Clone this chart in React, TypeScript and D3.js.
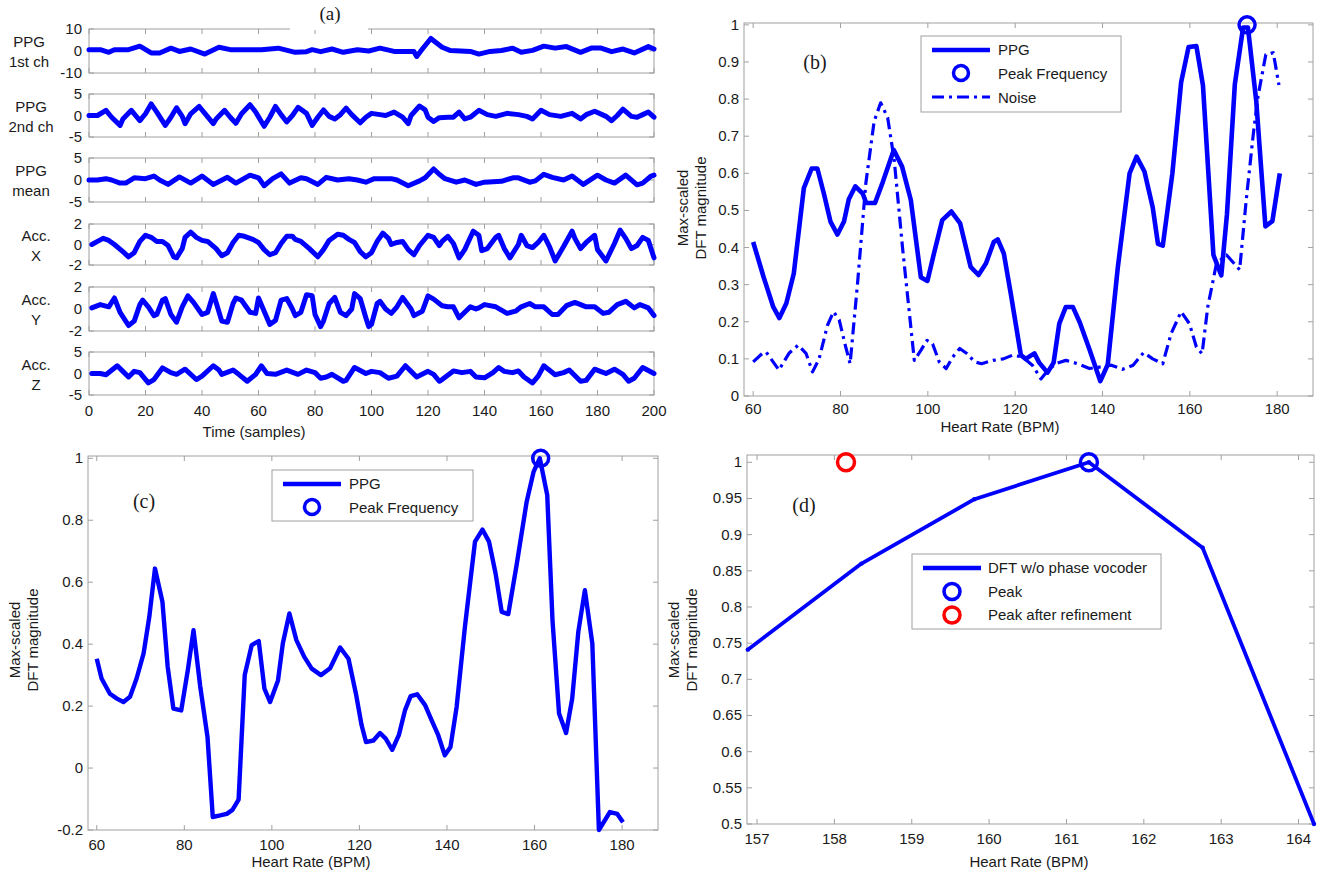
import React from "react";
import * as d3 from "d3";

const FONT = "'Liberation Sans', Arial, Helvetica, sans-serif";
const SERIF = "'Liberation Serif', 'Times New Roman', serif";
const BLUE = "#0000ff";
const RED = "#ff0000";
const AXIS = "#a0a0a0";
const TXT = "#1a1a1a";

type Pt = [number, number];

// ---------------- Panel (a): time series [sample, value] ----------------
const ppg1: Pt[] = [[0,0.6],[4,0.6],[7,-0.6],[9,0.6],[14,0.6],[18,2.2],[22,-0.9],[25,-0.9],[29,1.3],[32,-0.2],[36,0.9],[41,-1.4],[46,1.7],[50,0.6],[56,0.6],[61,0.6],[67,1.3],[73,-0.6],[77,-0.3],[79,0.6],[82,-0.3],[86,0.9],[90,-0.6],[95,0.6],[99,0],[103,1.3],[108,-0.2],[115,-0.2],[116,-2.5],[118,0.9],[121,5.7],[125,1.7],[128,0.2],[135,-0.2],[138,-1.4],[142,-0.2],[146,0.2],[150,1.3],[153,-0.6],[157,0.3],[161,2.2],[165,1.3],[169,2.0],[174,-0.6],[178,1.4],[181,1.4],[185,-0.3],[189,0.9],[193,-0.9],[198,2.0],[200,0.9]];
const ppg2: Pt[] = [[0,0],[3,0],[6,1.2],[8,-0.4],[11,-2.3],[12,-0.8],[15,1.2],[17,-0.4],[18,-1.2],[20,0.4],[22,2.7],[24,0.8],[27,-2.3],[29,-0.4],[31,1.8],[33,-0.2],[34,-1.9],[36,0.4],[39,2.1],[41,0.5],[44,-1.9],[45,-0.8],[48,1.2],[50,-0.4],[52,-1.8],[54,0.4],[57,2.5],[59,0.8],[62,-2.5],[64,-0.4],[66,2.1],[68,0.2],[70,-1.5],[72,0],[74,1.9],[77,0.5],[79,-2.3],[81,-0.4],[83,1.3],[85,-0.2],[87,-0.8],[89,0.2],[91,1.7],[93,0.2],[96,-1.7],[98,-0.4],[100,0.5],[103,0.2],[105,0],[108,0.8],[111,-0.4],[113,-1.9],[114,0],[117,2.2],[119,1.3],[120,-0.4],[122,-1.4],[124,-0.5],[127,-0.4],[129,-0.4],[131,0.8],[133,-0.8],[135,-0.4],[138,1.2],[141,0.2],[144,-0.2],[148,0.5],[152,0.2],[155,-0.2],[157,-0.8],[160,1.2],[163,0.2],[167,-0.2],[171,0.5],[174,-0.8],[176,0.2],[179,1.0],[183,-0.2],[185,-1.2],[187,0],[189,1.5],[192,-0.2],[194,-0.4],[196,0.2],[198,0.8],[200,-0.4]];
const ppgMean: Pt[] = [[0,0],[3,0],[6,0.3],[8,0],[11,-0.7],[13,-0.7],[16,0.5],[20,0.3],[23,0.9],[25,0],[28,-1.0],[32,0.7],[36,-0.7],[40,0.9],[44,-1.0],[49,0.6],[52,-0.7],[57,1.1],[60,0.5],[62,-1.3],[65,0.3],[68,1.4],[71,-0.7],[75,0.5],[77,0.3],[81,-1.0],[84,0.6],[88,0],[92,0.3],[95,0],[98,-0.5],[101,0.3],[107,0.3],[109,0],[113,-1.3],[117,-0.2],[119,0.5],[122,2.5],[124,1.3],[126,0.3],[130,-0.5],[133,0],[137,-1.0],[140,-0.5],[146,-0.3],[150,0.5],[152,0.5],[156,-0.5],[158,-0.2],[161,1.3],[164,0.6],[168,0],[171,0.9],[175,-1.0],[180,1.1],[183,0],[186,-0.7],[190,1.1],[194,-1.1],[196,-0.7],[199,0.9],[200,1.1]];
const accX: Pt[] = [[1,0],[3,0.3],[5,0.6],[7,0.4],[9,0],[12,-0.7],[14,-1.2],[16,-0.8],[18,0.3],[20,0.9],[22,0.7],[24,0.3],[26,0.3],[28,-0.1],[30,-1.2],[31,-1.3],[33,-0.4],[34,0.7],[36,1.2],[38,0.7],[40,0.4],[42,0.3],[45,-0.4],[47,-1.1],[49,-0.8],[51,0.2],[53,0.9],[55,0.8],[58,0.5],[60,0.2],[62,-0.5],[64,-1.0],[66,-0.8],[68,0.1],[70,0.8],[72,0.8],[73,0.5],[75,0.3],[78,-0.4],[81,-1.2],[83,-0.5],[85,0.4],[88,1.0],[90,0.9],[92,0.5],[94,0.2],[96,-0.7],[98,-1.2],[100,-0.8],[102,0.3],[104,1.1],[106,0.6],[107,0],[109,0.2],[111,0.3],[113,-0.5],[115,-1.0],[117,-0.1],[120,0.9],[122,0.7],[124,-0.1],[125,0.3],[127,0.8],[129,0.1],[131,-1.3],[133,-0.5],[136,1.3],[138,0.9],[139,-0.6],[141,-0.4],[144,0.7],[145,0.9],[147,-0.4],[149,-1.3],[152,0],[153,0.9],[155,-0.1],[157,-0.3],[159,0.2],[161,0.9],[163,-0.2],[165,-1.6],[168,-0.2],[171,1.3],[172,0.6],[174,-0.4],[176,0.2],[179,0.9],[180,-0.5],[183,-1.6],[186,0.1],[188,1.4],[190,0.6],[192,-0.4],[194,-0.1],[196,0.7],[198,0.4],[200,-1.3]];
const accY: Pt[] = [[1,0.1],[4,0.4],[7,0.2],[9,1.0],[11,-0.3],[14,-1.5],[16,-1.1],[18,0.4],[19,0.8],[21,0.2],[23,-0.6],[24,-0.5],[26,0.8],[27,0.95],[29,-0.5],[31,-1.2],[33,0.2],[35,1.2],[37,0.6],[40,-0.5],[42,-0.3],[44,1.4],[45,0.6],[47,-1.1],[49,-1.2],[51,0.5],[52,1.0],[54,0.8],[57,-0.3],[59,-0.4],[60,1.0],[62,-0.2],[64,-1.4],[66,-1.05],[68,0.8],[70,0.95],[72,0],[73,-0.6],[75,-0.3],[77,1.3],[79,1.2],[80,-0.5],[82,-1.6],[83,-1.1],[85,0.5],[87,1.05],[89,-0.3],[91,-0.6],[93,0],[94,1.4],[96,0.95],[98,-0.8],[99,-1.6],[100,-1.4],[102,0.5],[103,0.7],[105,0],[107,-0.4],[109,0.2],[111,1.05],[114,0],[115,-0.6],[118,-0.2],[120,1.2],[122,0.9],[125,0.3],[127,0.2],[129,0.2],[131,-0.8],[133,-0.3],[135,0.2],[137,0],[138,0.1],[140,0.4],[144,0.2],[148,-0.4],[151,-0.2],[153,0.2],[156,0.5],[158,0.2],[161,0.2],[164,-0.5],[166,-0.5],[169,0.3],[172,0.6],[174,0.4],[176,0.2],[179,0.2],[182,-0.4],[184,-0.3],[187,0.4],[190,0.7],[193,0.1],[195,0.4],[198,0.1],[200,-0.6]];
const accZ: Pt[] = [[1,0],[4,0],[6,-0.3],[10,1.8],[12,0.5],[14,-0.8],[16,0.5],[18,0.2],[21,-2.2],[23,-1.4],[26,1.3],[29,0.2],[31,-0.2],[34,1.0],[38,-1.4],[40,-0.6],[44,1.8],[46,0.8],[47,-0.2],[51,0.8],[53,-0.2],[56,-1.8],[59,-0.2],[61,1.8],[63,0],[66,-0.2],[70,0.8],[74,-0.2],[77,0.8],[80,0.2],[82,-1.1],[84,-0.8],[86,-0.2],[90,-1.8],[91,-1.6],[94,1.4],[98,0],[100,0.5],[103,0.2],[106,-1.1],[109,-0.6],[112,1.8],[114,0.5],[116,-0.8],[120,0.5],[122,-0.2],[124,-1.8],[125,-1.4],[129,0.6],[132,0.2],[135,0.5],[137,-0.8],[140,-1.0],[143,0.2],[145,1.4],[147,0.5],[150,0.2],[152,0.6],[154,-0.8],[157,-2.2],[159,-0.6],[161,1.8],[165,-0.3],[168,0.2],[170,0.8],[174,-1.8],[176,-1.6],[179,1.0],[181,0.5],[183,0],[186,1.0],[189,-0.2],[191,-1.8],[193,-1.1],[196,1.4],[200,0]];

const rowSeries: Pt[][] = [ppg1, ppg2, ppgMean, accX, accY, accZ];
const rowLabels: string[][] = [["PPG", "1st ch"], ["PPG", "2nd ch"], ["PPG", "mean"], ["Acc.", "X"], ["Acc.", "Y"], ["Acc.", "Z"]];
const rowLimits: number[] = [10, 5, 5, 2, 2, 5];
const timeTicks: number[] = [0, 20, 40, 60, 80, 100, 120, 140, 160, 180, 200];

// ---------------- Panel (b): DFT of PPG and noise [BPM, value] ----------------
const bPpg: Pt[] = [[60,0.415],[62.4,0.32],[64.6,0.24],[66,0.21],[67.6,0.25],[69.3,0.33],[71.6,0.56],[73.4,0.613],[74.7,0.613],[76.2,0.545],[77.7,0.47],[79.3,0.435],[80.8,0.47],[81.9,0.53],[83.4,0.565],[85.1,0.545],[85.9,0.52],[87.9,0.52],[89.7,0.577],[92.2,0.663],[94.1,0.618],[96.1,0.528],[98.4,0.32],[99.9,0.31],[101.4,0.384],[103.3,0.474],[105.4,0.497],[107.4,0.465],[109.8,0.348],[111.6,0.326],[113.3,0.357],[115.1,0.415],[116,0.422],[117.4,0.384],[119,0.275],[121.3,0.11],[122.4,0.1],[124.4,0.115],[125.5,0.09],[127.4,0.063],[128.8,0.09],[130.1,0.195],[131.6,0.24],[133.2,0.24],[134.8,0.198],[137,0.126],[139.5,0.04],[141.2,0.085],[143.5,0.346],[146.2,0.6],[147.8,0.645],[149.6,0.605],[151.5,0.508],[152.7,0.41],[153.8,0.405],[156,0.6],[158,0.845],[159.7,0.94],[161.5,0.943],[163,0.837],[165.4,0.38],[167.2,0.325],[168.5,0.49],[170.3,0.84],[172.2,0.993],[173.3,0.993],[175.2,0.795],[177.3,0.457],[178.9,0.471],[180.6,0.6]];
const bNoise: Pt[] = [[60,0.092],[62.4,0.118],[63,0.118],[65.9,0.07],[68.2,0.115],[70.3,0.137],[72.1,0.115],[73.6,0.065],[75.1,0.1],[77,0.19],[78.4,0.227],[79.7,0.205],[81.2,0.132],[82.2,0.087],[83.9,0.303],[85.8,0.573],[87.7,0.74],[89.2,0.79],[90.8,0.75],[92.3,0.636],[94.2,0.4],[96.9,0.096],[98.4,0.123],[99.8,0.15],[101.1,0.14],[102.6,0.092],[104.2,0.074],[105.7,0.105],[107.3,0.128],[109,0.114],[110.7,0.092],[112.3,0.087],[114.9,0.096],[117.3,0.1],[119.4,0.11],[121.7,0.105],[124,0.082],[125.9,0.046],[127.4,0.068],[129.3,0.087],[131.6,0.096],[134.3,0.087],[137,0.074],[139.3,0.078],[142,0.083],[144.6,0.072],[147,0.083],[149.4,0.117],[151.5,0.1],[153.8,0.087],[155.7,0.168],[158,0.227],[159.9,0.195],[161.5,0.132],[162.8,0.114],[164.1,0.24],[166.1,0.357],[168.4,0.38],[171.4,0.34],[172.9,0.527],[174.5,0.703],[175.6,0.807],[177.4,0.92],[179.1,0.925],[180.4,0.838]];
const bPeak: Pt = [173.1, 1.0];
const bTicksX: number[] = [60, 80, 100, 120, 140, 160, 180];
const bTicksY: number[] = [0, 0.1, 0.2, 0.3, 0.4, 0.5, 0.6, 0.7, 0.8, 0.9, 1];

// ---------------- Panel (c) ----------------
const cPpg: Pt[] = [[60,0.353],[61.1,0.289],[63,0.24],[64.6,0.224],[66.1,0.213],[67.6,0.23],[69.1,0.289],[70.7,0.37],[72,0.488],[73.3,0.644],[75,0.537],[76.2,0.327],[77.5,0.192],[79.3,0.186],[80.8,0.316],[82.1,0.445],[83.6,0.267],[85.3,0.1],[86.5,-0.158],[88.2,-0.153],[89.7,-0.148],[91,-0.135],[92.4,-0.102],[93.8,0.3],[95.4,0.397],[97,0.41],[98.3,0.256],[99.6,0.213],[101.4,0.283],[102.5,0.402],[104,0.499],[105.6,0.413],[107.4,0.359],[109.1,0.321],[111.2,0.3],[113.3,0.322],[115.6,0.389],[117.5,0.353],[119.2,0.24],[120.5,0.138],[121.5,0.084],[123.2,0.089],[124.7,0.113],[126,0.095],[127.5,0.059],[129,0.106],[130.4,0.186],[131.7,0.232],[133.2,0.238],[135,0.203],[136.5,0.154],[138,0.106],[139.5,0.041],[140.8,0.068],[142.2,0.197],[144.1,0.456],[146.4,0.731],[148.1,0.77],[149.6,0.731],[151.1,0.628],[152.5,0.504],[154,0.497],[155.9,0.655],[158.2,0.86],[159.8,0.957],[161.2,1.0],[162.9,0.881],[164.1,0.477],[165.6,0.176],[167.2,0.113],[168.6,0.224],[170,0.44],[171.5,0.574],[173.2,0.402],[174.7,-0.2],[177.2,-0.142],[178.9,-0.148],[180.2,-0.175]];
const cPeak: Pt = [161.4, 1.0];
const cTicksY: number[] = [-0.2, 0, 0.2, 0.4, 0.6, 0.8, 1];

// ---------------- Panel (d) ----------------
const dHr: number[] = [156.88, 158.35, 159.81, 161.29, 162.76, 164.2];
const dVal: number[] = [0.741, 0.86, 0.949, 1.0, 0.882, 0.5];
const dPeak: Pt = [161.29, 1.0];
const dRefined: Pt = [158.15, 1.0];
const dTicksX: number[] = [157, 158, 159, 160, 161, 162, 163, 164];
const dTicksY: number[] = [0.5, 0.55, 0.6, 0.65, 0.7, 0.75, 0.8, 0.85, 0.9, 0.95, 1];

const fmt = (v: number) => String(+v.toFixed(2));

function Frame(props: {
  x0: number; x1: number; y0: number; y1: number;
  xs: (v: number) => number; ys: (v: number) => number;
  xTicks: number[]; yTicks: number[]; tl?: number;
}) {
  const { x0, x1, y0, y1, xs, ys, xTicks, yTicks } = props;
  const tl = props.tl ?? 5;
  return (
    <g stroke={AXIS} strokeWidth={1} fill="none">
      <rect x={x0} y={y0} width={x1 - x0} height={y1 - y0} />
      {xTicks.map((t, i) => (
        <g key={"x" + i}>
          <line x1={xs(t)} x2={xs(t)} y1={y1} y2={y1 - tl} />
          <line x1={xs(t)} x2={xs(t)} y1={y0} y2={y0 + tl} />
        </g>
      ))}
      {yTicks.map((t, i) => (
        <g key={"y" + i}>
          <line x1={x0} x2={x0 + tl} y1={ys(t)} y2={ys(t)} />
          <line x1={x1} x2={x1 - tl} y1={ys(t)} y2={ys(t)} />
        </g>
      ))}
    </g>
  );
}

function TickLabels(props: {
  xs: (v: number) => number; ys: (v: number) => number;
  xTicks: number[]; yTicks: number[]; xLabelY: number; yLabelX: number; size?: number;
}) {
  const { xs, ys, xTicks, yTicks, xLabelY, yLabelX } = props;
  const size = props.size ?? 15;
  return (
    <g fontFamily={FONT} fontSize={size} fill={TXT}>
      {xTicks.map((t, i) => (
        <text key={"x" + i} x={xs(t)} y={xLabelY} textAnchor="middle">{fmt(t)}</text>
      ))}
      {yTicks.map((t, i) => (
        <text key={"y" + i} x={yLabelX} y={ys(t) + 5} textAnchor="end">{fmt(t)}</text>
      ))}
    </g>
  );
}

function PanelA() {
  const rowTop = [29, 94, 158, 224, 287, 352];
  const rowBottom = [73, 137, 202, 265, 331, 395];
  const labelX = [29, 31, 31, 36, 36, 36];
  const xs = d3.scaleLinear().domain([0, 200]).range([89, 654]);
  return (
    <g>
      {rowSeries.map((series, r) => {
        const lim = rowLimits[r];
        const ys = d3.scaleLinear().domain([-lim, lim]).range([rowBottom[r], rowTop[r]]);
        const line = d3.line<Pt>().x((d) => xs(d[0])).y((d) => ys(d[1]));
        const yt = [-lim, 0, lim];
        const mid = (rowTop[r] + rowBottom[r]) / 2;
        return (
          <g key={r}>
            <Frame x0={89} x1={654} y0={rowTop[r]} y1={rowBottom[r]} xs={xs} ys={ys} xTicks={timeTicks} yTicks={yt} />
            <path d={line(series) || ""} fill="none" stroke={BLUE} strokeWidth={5} strokeLinejoin="round" strokeLinecap="round" />
            <g fontFamily={FONT} fontSize={15} fill={TXT}>
              {yt.map((t, i) => (
                <text key={i} x={82} y={ys(t) + 5} textAnchor="end">{fmt(t)}</text>
              ))}
              <text x={labelX[r]} y={mid - 4} textAnchor="middle">{rowLabels[r][0]}</text>
              <text x={labelX[r]} y={mid + 16} textAnchor="middle">{rowLabels[r][1]}</text>
            </g>
          </g>
        );
      })}
      <g fontFamily={FONT} fontSize={15} fill={TXT}>
        {timeTicks.map((t, i) => (
          <text key={i} x={xs(t)} y={416} textAnchor="middle">{t}</text>
        ))}
        <text x={254} y={437} textAnchor="middle">Time (samples)</text>
      </g>
      <line x1={290} x2={368} y1={29} y2={29} stroke="#fff" strokeWidth={2} />
      <text x={330} y={20} textAnchor="middle" fontFamily={SERIF} fontSize={19} fill={TXT}>(a)</text>
    </g>
  );
}

function YLabel2({ x, y }: { x: number; y: number }) {
  return (
    <g fontFamily={FONT} fontSize={15} fill={TXT}>
      <text transform={`translate(${x},${y}) rotate(-90)`} textAnchor="middle">Max-scaled</text>
      <text transform={`translate(${x + 18},${y}) rotate(-90)`} textAnchor="middle">DFT magnitude</text>
    </g>
  );
}

function PanelB() {
  const xs = d3.scaleLinear().domain([57.9, 188.2]).range([744, 1313]);
  const ys = d3.scaleLinear().domain([0, 1.005]).range([396, 23]);
  const line = d3.line<Pt>().x((d) => xs(d[0])).y((d) => ys(d[1]));
  return (
    <g>
      <rect x={744} y={23} width={569} height={373} fill="#fff" />
      <Frame x0={744} x1={1313} y0={23} y1={396} xs={xs} ys={ys} xTicks={bTicksX} yTicks={bTicksY} />
      <path d={line(bNoise) || ""} fill="none" stroke={BLUE} strokeWidth={3.2} strokeDasharray="12,5,3,5" strokeLinejoin="round" />
      <path d={line(bPpg) || ""} fill="none" stroke={BLUE} strokeWidth={4.6} strokeLinejoin="round" />
      <circle cx={xs(bPeak[0])} cy={ys(bPeak[1])} r={8} fill="none" stroke={BLUE} strokeWidth={3.5} />
      <TickLabels xs={xs} ys={ys} xTicks={bTicksX} yTicks={bTicksY} xLabelY={414} yLabelX={739} />
      <YLabel2 x={688} y={208} />
      <text x={1000} y={432} textAnchor="middle" fontFamily={FONT} fontSize={15} fill={TXT}>Heart Rate (BPM)</text>
      <text x={815} y={69} textAnchor="middle" fontFamily={SERIF} fontSize={20} fill={TXT}>(b)</text>
      <g>
        <rect x={921} y={36} width={200} height={76} fill="#fff" stroke={AXIS} />
        <line x1={932} x2={990} y1={50} y2={50} stroke={BLUE} strokeWidth={4.5} />
        <circle cx={961} cy={73} r={7.5} fill="none" stroke={BLUE} strokeWidth={3.5} />
        <line x1={932} x2={990} y1={97} y2={97} stroke={BLUE} strokeWidth={3.2} strokeDasharray="12,5,3,5" />
        <g fontFamily={FONT} fontSize={15} fill={TXT}>
          <text x={998} y={55}>PPG</text>
          <text x={998} y={79}>Peak Frequency</text>
          <text x={998} y={103}>Noise</text>
        </g>
      </g>
    </g>
  );
}

function PanelC() {
  const xs = d3.scaleLinear().domain([58, 188.2]).range([88, 658]);
  const ys = d3.scaleLinear().domain([-0.2, 1.0074]).range([830, 456]);
  const line = d3.line<Pt>().x((d) => xs(d[0])).y((d) => ys(d[1]));
  return (
    <g>
      <Frame x0={88} x1={658} y0={456} y1={830} xs={xs} ys={ys} xTicks={bTicksX} yTicks={cTicksY} />
      <path d={line(cPpg) || ""} fill="none" stroke={BLUE} strokeWidth={4.4} strokeLinejoin="round" />
      <circle cx={xs(cPeak[0])} cy={ys(cPeak[1])} r={8} fill="none" stroke={BLUE} strokeWidth={3.5} />
      <TickLabels xs={xs} ys={ys} xTicks={bTicksX} yTicks={cTicksY} xLabelY={850} yLabelX={83} />
      <YLabel2 x={20} y={640} />
      <text x={311} y={867} textAnchor="middle" fontFamily={FONT} fontSize={15} fill={TXT}>Heart Rate (BPM)</text>
      <text x={144} y={508} textAnchor="middle" fontFamily={SERIF} fontSize={20} fill={TXT}>(c)</text>
      <g>
        <rect x={272} y={470} width={201} height={51} fill="#fff" stroke={AXIS} />
        <line x1={283} x2={341} y1={484} y2={484} stroke={BLUE} strokeWidth={4.5} />
        <circle cx={312} cy={507} r={7.5} fill="none" stroke={BLUE} strokeWidth={3.5} />
        <g fontFamily={FONT} fontSize={15} fill={TXT}>
          <text x={349} y={489}>PPG</text>
          <text x={349} y={513}>Peak Frequency</text>
        </g>
      </g>
    </g>
  );
}

function PanelD() {
  const xs = d3.scaleLinear().domain([156.87, 164.2]).range([747, 1314]);
  const ys = d3.scaleLinear().domain([0.5, 1.0101]).range([824, 455]);
  const pts: Pt[] = dHr.map((h, i) => [h, dVal[i]] as Pt);
  const line = d3.line<Pt>().x((d) => xs(d[0])).y((d) => ys(d[1]));
  return (
    <g>
      <Frame x0={747} x1={1314} y0={455} y1={824} xs={xs} ys={ys} xTicks={dTicksX} yTicks={dTicksY} />
      <path d={line(pts) || ""} fill="none" stroke={BLUE} strokeWidth={3.8} strokeLinejoin="round" />
      {pts.map((p, i) => (
        <circle key={i} cx={xs(p[0])} cy={ys(p[1])} r={2.2} fill={BLUE} />
      ))}
      <circle cx={xs(dPeak[0])} cy={ys(dPeak[1])} r={8.5} fill="none" stroke={BLUE} strokeWidth={3.5} />
      <circle cx={xs(dRefined[0])} cy={ys(dRefined[1])} r={8.5} fill="none" stroke={RED} strokeWidth={3.5} />
      <TickLabels xs={xs} ys={ys} xTicks={dTicksX} yTicks={dTicksY} xLabelY={844} yLabelX={742} />
      <YLabel2 x={679} y={640} />
      <text x={1029} y={867} textAnchor="middle" fontFamily={FONT} fontSize={15} fill={TXT}>Heart Rate (BPM)</text>
      <text x={804} y={512} textAnchor="middle" fontFamily={SERIF} fontSize={20} fill={TXT}>(d)</text>
      <g>
        <rect x={912} y={554} width={249} height={75} fill="#fff" stroke={AXIS} />
        <line x1={923} x2={981} y1={568} y2={568} stroke={BLUE} strokeWidth={4.5} />
        <circle cx={952} cy={568} r={2} fill={BLUE} />
        <circle cx={952} cy={591.5} r={8} fill="none" stroke={BLUE} strokeWidth={3.5} />
        <circle cx={952} cy={615} r={8} fill="none" stroke={RED} strokeWidth={3.5} />
        <g fontFamily={FONT} fontSize={15} fill={TXT}>
          <text x={988} y={573}>DFT w/o phase vocoder</text>
          <text x={988} y={597}>Peak</text>
          <text x={988} y={620}>Peak after refinement</text>
        </g>
      </g>
    </g>
  );
}

export default function App() {
  return (
    <svg
      width={1320}
      height={878}
      viewBox="0 0 1320 878"
      style={{ position: "absolute", left: 0, top: 0, background: "#fff" }}
    >
      <rect x={0} y={0} width={1320} height={878} fill="#fff" />
      <PanelA />
      <PanelB />
      <PanelC />
      <PanelD />
    </svg>
  );
}
